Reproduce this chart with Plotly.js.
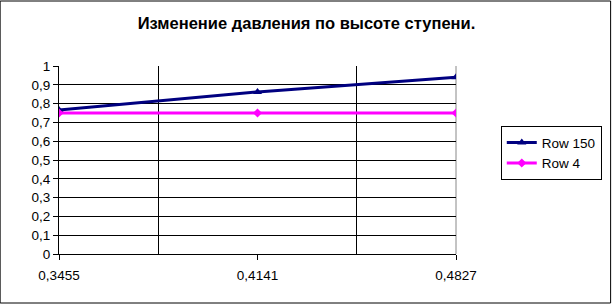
<!DOCTYPE html>
<html><head><meta charset="utf-8">
<script src="https://cdn.plot.ly/plotly-3.0.1.min.js"></script>
<style>html,body{margin:0;padding:0;background:#fff}#c{width:613px;height:304px}</style>
</head><body><div id="c"></div>
<script>
const categories = ["0,3455", "0,4141", "0,4827"];
const row150 = [0.766, 0.862, 0.94];
const row4 = [0.75, 0.75, 0.75];
const idx = categories.map((_, i) => i);

const traces = [
  {x: idx, y: row150, name: "Row 150", mode: "lines+markers",
   line: {color: "#000080", width: 3}, marker: {symbol: "triangle-up", size: 8, color: "#000080"}},
  {x: idx, y: row4, name: "Row 4", mode: "lines+markers",
   line: {color: "#FF00FF", width: 3}, marker: {symbol: "diamond", size: 7, color: "#FF00FF"}}
];

const layout = {
  width: 613, height: 304,
  separators: ", ",
  font: {family: "Liberation Sans, Arial, sans-serif", size: 13.5, color: "#000"},
  margin: {l: 59, r: 156, t: 66, b: 50},
  paper_bgcolor: "#fff", plot_bgcolor: "#fff",
  title: {text: "<b>Изменение давления по высоте ступени.</b>", font: {size: 16.5, color: "#000"},
          x: 0.5, xref: "container", xanchor: "center", y: 0.925, yref: "container", yanchor: "middle"},
  xaxis: {range: [0, 2], tickvals: idx, ticktext: categories, showgrid: false, zeroline: false,
          showline: true, linecolor: "#000", linewidth: 1, ticks: "outside", ticklen: 5, tickcolor: "#000",
          tickfont: {size: 13.5}, ticklabelstandoff: 4, fixedrange: true},
  xaxis2: {overlaying: "x", range: [0, 2], tickvals: [0.5, 1.5], showticklabels: false, ticks: "",
           showgrid: true, gridcolor: "#000", gridwidth: 1, zeroline: false, showline: false},
  yaxis: {range: [0, 1], dtick: 0.1, tick0: 0, showgrid: true, gridcolor: "#000", gridwidth: 1,
          zeroline: false, showline: true, linecolor: "#000", linewidth: 1, ticks: "outside",
          ticklen: 5, tickcolor: "#000", tickfont: {size: 13.5}},
  legend: {x: 1.11, xanchor: "left", y: 0.68, yanchor: "top", bordercolor: "#000", borderwidth: 1,
           bgcolor: "#fff", font: {size: 13.5}, tracegroupgap: 0},
  shapes: [
    {type: "line", xref: "paper", yref: "paper", x0: 1, x1: 1, y0: 0, y1: 1, line: {color: "#888", width: 1}, layer: "below"},
    {type: "rect", xref: "paper", yref: "paper", x0: -59/398, x1: 1 + 155/398, y0: -49/188, y1: 1 + 65/188,
     line: {color: "#000", width: 1}}
  ],
  showlegend: true
};

traces.push({x: [0], y: [0], xaxis: "x2", yaxis: "y", mode: "markers", marker: {opacity: 0}, showlegend: false, hoverinfo: "skip"});

Plotly.newPlot("c", traces, layout, {displayModeBar: false, staticPlot: true});
</script>
</body></html>
